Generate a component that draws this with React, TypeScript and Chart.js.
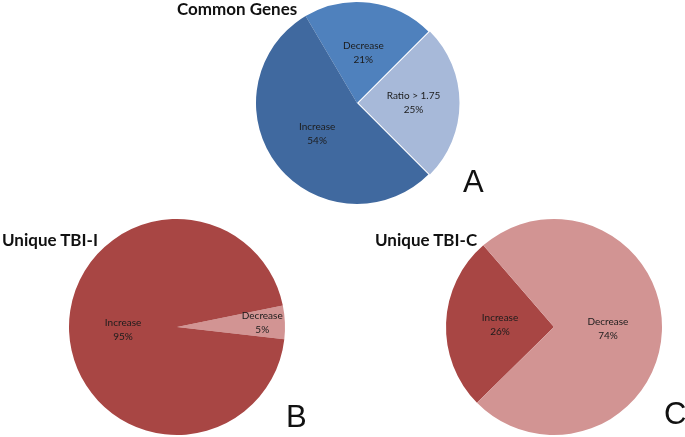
import React, { useEffect, useRef } from "react";
import { Chart, registerables } from "chart.js";

Chart.register(...registerables);

// ---- Data ----
const commonLabels = ["Decrease", "Ratio > 1.75", "Increase"];
const commonValues = [21, 25, 54];
const commonColors = ["#4f81bd", "#a7b9d9", "#40699f"];

const tbiILabels = ["Decrease", "Increase"];
const tbiIValues = [5, 95];
const tbiIColors = ["#d29493", "#a84644"];

const tbiCLabels = ["Increase", "Decrease"];
const tbiCValues = [26, 74];
const tbiCColors = ["#a84644", "#d29493"];

const sliceLabelsPlugin = {
  id: "sliceLabels",
  afterDatasetsDraw(chart: any, _args: any, opts: any) {
    const ctx = chart.ctx;
    const meta = chart.getDatasetMeta(0);
    const data = chart.data.datasets[0].data as number[];
    const labels = chart.data.labels as string[];
    const total = data.reduce((a, b) => a + b, 0);
    meta.data.forEach((arc: any, i: number) => {
      const p = arc.getProps(["x", "y", "startAngle", "endAngle", "outerRadius"], true);
      const mid = (p.startAngle + p.endAngle) / 2;
      const off = arc.options.offset || 0;
      const f = (opts.fractions && opts.fractions[i]) ?? 0.5;
      const d = off + f * p.outerRadius;
      const cx = p.x + Math.cos(mid) * d;
      const cy = p.y + Math.sin(mid) * d;
      ctx.save();
      ctx.font = "10px Lato, 'Open Sans', sans-serif";
      ctx.fillStyle = "#1c1c1c";
      ctx.textAlign = "center";
      ctx.textBaseline = "middle";
      ctx.fillText(labels[i], cx, cy - 7);
      ctx.fillText(Math.round((data[i] / total) * 100) + "%", cx, cy + 7);
      ctx.restore();
    });
  },
};

type PieProps = {
  labels: string[];
  values: number[];
  colors: string[];
  rotation: number;
  radius: number;
  offsets: number[];
  fractions: number[];
  left: number;
  top: number;
  width: number;
  height: number;
};

function Pie(props: PieProps) {
  const ref = useRef<HTMLCanvasElement | null>(null);
  useEffect(() => {
    if (!ref.current) return;
    const chart = new Chart(ref.current, {
      type: "pie",
      data: {
        labels: props.labels,
        datasets: [
          {
            data: props.values,
            backgroundColor: props.colors,
            borderWidth: 0,
            offset: props.offsets,
            radius: props.radius,
          } as any,
        ],
      },
      options: {
        responsive: false,
        animation: false,
        rotation: props.rotation,
        radius: props.radius,
        layout: { padding: 0 },
        plugins: {
          legend: { display: false },
          tooltip: { enabled: false },
          title: { display: false },
          sliceLabels: { fractions: props.fractions },
        } as any,
      } as any,
      plugins: [sliceLabelsPlugin],
    });
    return () => chart.destroy();
  }, []);
  return (
    <canvas
      ref={ref}
      width={props.width}
      height={props.height}
      style={{
        position: "absolute",
        left: props.left,
        top: props.top,
        width: props.width,
        height: props.height,
      }}
    />
  );
}

const titleStyle: React.CSSProperties = {
  position: "absolute",
  fontFamily: "Lato, 'Open Sans', sans-serif",
  fontWeight: 700,
  fontSize: 17,
  lineHeight: "17px",
  color: "#111",
  whiteSpace: "nowrap",
};

const letterStyle: React.CSSProperties = {
  position: "absolute",
  fontFamily: "'Liberation Sans', Arial, sans-serif",
  fontSize: 31,
  lineHeight: "31px",
  color: "#111",
};

export default function App() {
  return (
    <div
      style={{
        position: "fixed",
        left: 0,
        top: 0,
        width: 685,
        height: 437,
        overflow: "hidden",
        background: "#fff",
      }}
    >
      <Pie
        labels={commonLabels}
        values={commonValues}
        colors={commonColors}
        rotation={-30.6}
        radius={101}
        offsets={[0, 6, 0]}
        fractions={[0.5, 0.5, 0.5]}
        left={247}
        top={0}
        width={220}
        height={206}
      />
      <Pie
        labels={tbiILabels}
        values={tbiIValues}
        colors={tbiIColors}
        rotation={78.5}
        radius={108}
        offsets={[0, 0]}
        fractions={[0.79, 0.5]}
        left={62}
        top={212}
        width={230}
        height={230}
      />
      <Pie
        labels={tbiCLabels}
        values={tbiCValues}
        colors={tbiCColors}
        rotation={225.5}
        radius={108}
        offsets={[0, 0]}
        fractions={[0.5, 0.5]}
        left={439}
        top={212}
        width={230}
        height={230}
      />
      <div style={{ ...titleStyle, left: 177, top: 0 }}>Common Genes</div>
      <div style={{ ...titleStyle, left: 2, top: 231 }}>Unique TBI-I</div>
      <div style={{ ...titleStyle, left: 375, top: 231 }}>Unique TBI-C</div>
      <div style={{ ...letterStyle, left: 463, top: 166 }}>A</div>
      <div style={{ ...letterStyle, left: 286, top: 401 }}>B</div>
      <div style={{ ...letterStyle, left: 664, top: 398 }}>C</div>
    </div>
  );
}
